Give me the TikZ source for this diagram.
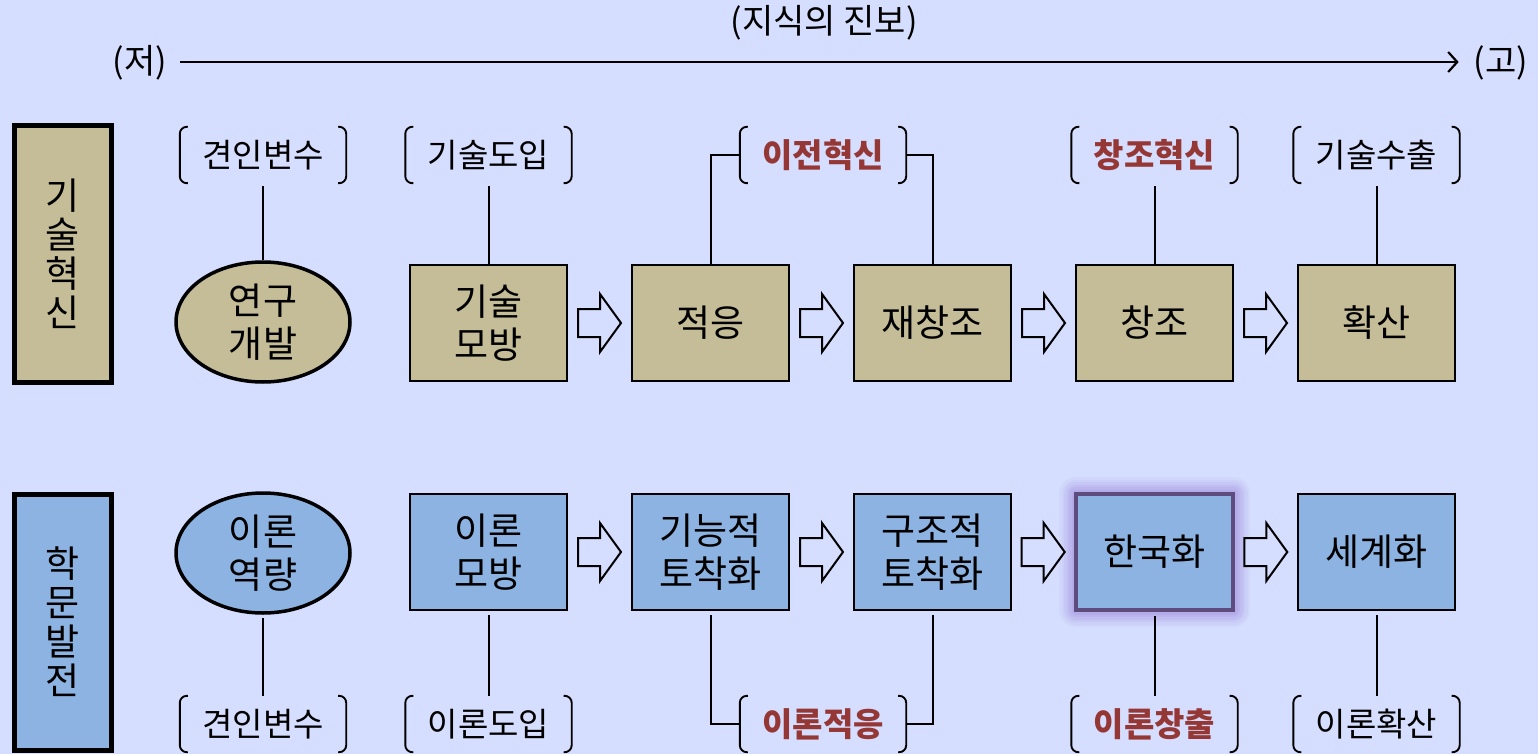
\documentclass[tikz,border=0pt]{standalone}
\usepackage{fontspec}
\setmainfont{Noto Sans CJK KR}
\usetikzlibrary{arrows.meta,shapes.geometric,calc}
\definecolor{bg}{HTML}{D5DEFE}
\definecolor{tan}{HTML}{C4BD97}
\definecolor{blu}{HTML}{8DB3E2}
\definecolor{redt}{HTML}{953735}
\definecolor{purb}{HTML}{5E4C7E}
\definecolor{glowc}{HTML}{9A80D8}
\newcommand\bklabel[5]{%
  \node[lbl,#5] (#1) at (#2,#3) {#4};
  \draw[bk] ([xshift=8]#1.north west) -- (#1.north west) -- (#1.south west) -- ([xshift=8]#1.south west);
  \draw[bk] ([xshift=-8]#1.north east) -- (#1.north east) -- (#1.south east) -- ([xshift=-8]#1.south east);
}
\begin{document}
\begin{tikzpicture}[x=1pt,y=-1pt,
  lbl/.style={font=\fontsize{33}{38}\selectfont, inner sep=0, minimum width=166, minimum height=56},
  bk/.style={line width=1.9, rounded corners=7},
  ln/.style={line width=2},
  boxt/.style={draw, line width=2.6, minimum width=157, minimum height=116, font=\fontsize{37}{43}\selectfont, align=center, inner sep=0},
  tanbox/.style={boxt, fill=tan},
  blubox/.style={boxt, fill=blu},
  ell/.style={ellipse, draw, line width=3.5, minimum width=174, minimum height=120, inner sep=0, font=\fontsize{37}{43}\selectfont, align=center},
  side/.style={draw, line width=5, minimum width=97, minimum height=256, inner sep=0, font=\fontsize{37}{39}\selectfont, align=center},
  redlbl/.style={text=redt, font=\fontsize{33}{38}\selectfont\bfseries},
  glowbox/.style={blubox, draw=purb, line width=3.8,
    preaction={draw=glowc, line width=34, draw opacity=0.07, line join=round},
    preaction={draw=glowc, line width=29, draw opacity=0.08, line join=round},
    preaction={draw=glowc, line width=24, draw opacity=0.1, line join=round},
    preaction={draw=glowc, line width=19, draw opacity=0.12, line join=round},
    preaction={draw=glowc, line width=14, draw opacity=0.14, line join=round},
    preaction={draw=glowc, line width=9, draw opacity=0.16, line join=round}},
  harr/.pic={\draw[line width=2, line join=miter, fill=bg] (-21.5,-14) -- (0.5,-14) -- (0.5,-29) -- (21.5,0) -- (0.5,29) -- (0.5,14) -- (-21.5,14) -- cycle;}
]
\fill[bg] (0,0) rectangle (1538,754);
\useasboundingbox (0,0) rectangle (1538,754);

% axis
\node[font=\fontsize{34}{38}\selectfont, inner sep=0] (title) at (824,23) {(지식의 진보)};
\node[font=\fontsize{34}{38}\selectfont, inner sep=0] (lo) at (140,63) {(저)};
\node[font=\fontsize{34}{38}\selectfont, inner sep=0] (hi) at (1501,63) {(고)};
\draw[line width=2.2, -{Straight Barb[length=9,width=20,line width=2.2]}] ([xshift=13,yshift=1]lo.east) -- ([xshift=-15,yshift=1]hi.west);

% side labels
\node[side, fill=tan] (s1) at (62.5,254) {기\\술\\혁\\신};
\node[side, fill=blu] (s2) at (62.5,622) {학\\문\\발\\전};

% top row
\node[ell, fill=tan] (a1) at (263,322) {연구\\개발};
\node[tanbox] (a2) at (488.5,323) {기술\\모방};
\node[tanbox] (a3) at (710.5,323) {적응};
\node[tanbox] (a4) at (932.5,323) {재창조};
\node[tanbox] (a5) at (1154.5,323) {창조};
\node[tanbox] (a6) at (1376.5,323) {확산};

% bottom row
\node[ell, fill=blu] (b1) at (263,553) {이론\\역량};
\node[blubox] (b2) at (488.5,552) {이론\\모방};
\node[blubox] (b3) at (710.5,552) {기능적\\토착화};
\node[blubox] (b4) at (932.5,552) {구조적\\토착화};
\node[glowbox] (b5) at (1154.5,552) {한국화};
\node[blubox] (b6) at (1376.5,552) {세계화};

% hollow arrows
\foreach \p/\q in {a2/a3,a3/a4,a4/a5,a5/a6,b2/b3,b3/b4,b4/b5,b5/b6}
  \path ($(\p.east)!0.5!(\q.west)$) pic {harr};

% top bracket labels
\bklabel{t1}{263}{155}{견인변수}{}
\bklabel{t2}{488.5}{155}{기술도입}{}
\bklabel{t3}{823}{155}{이전혁신}{redlbl}
\bklabel{t4}{1154.5}{155}{창조혁신}{redlbl}
\bklabel{t5}{1376.5}{155}{기술수출}{}

% bottom bracket labels
\bklabel{u1}{263}{724}{견인변수}{}
\bklabel{u2}{488.5}{724}{이론도입}{}
\bklabel{u3}{823}{724}{이론적응}{redlbl}
\bklabel{u4}{1154.5}{724}{이론창출}{redlbl}
\bklabel{u5}{1376.5}{724}{이론확산}{}

% top connectors
\draw[ln] ([yshift=-3]t1.south) -- (a1.north);
\draw[ln] ([yshift=-3]t2.south) -- (a2.north);
\draw[ln] (t3.west) -| (a3.north);
\draw[ln] (t3.east) -| (a4.north);
\draw[ln] ([yshift=-3]t4.south) -- (a5.north);
\draw[ln] ([yshift=-3]t5.south) -- (a6.north);

% bottom connectors
\draw[ln] ([yshift=-3]b1.south) -- (u1.north);
\draw[ln] ([yshift=-4]b2.south) -- (u2.north);
\draw[ln] ([yshift=-4]b3.south) |- (u3.west);
\draw[ln] ([yshift=-4]b4.south) |- (u3.east);
\draw[ln] ([yshift=-4]b5.south) -- (u4.north);
\draw[ln] ([yshift=-4]b6.south) -- (u5.north);
\end{tikzpicture}
\end{document}
